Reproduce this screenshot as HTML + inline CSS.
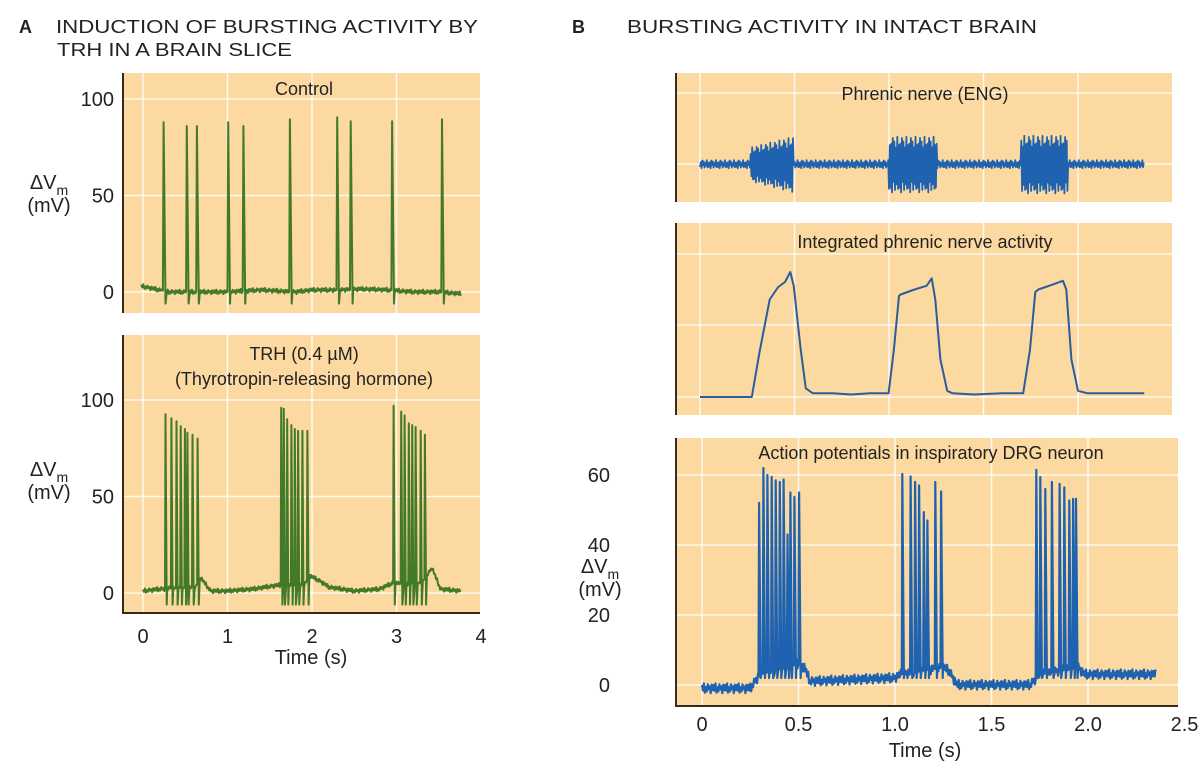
<!DOCTYPE html>
<html><head><meta charset="utf-8"><style>
html,body{margin:0;padding:0;background:#fff;}
svg{display:block;font-family:"Liberation Sans",Arial,sans-serif;}
</style></head><body>
<svg id="fig" width="1202" height="770" viewBox="0 0 1202 770" xmlns="http://www.w3.org/2000/svg">
<g fill="#222">
<text x="19" y="33" font-size="18" font-weight="bold">A</text>
<text x="56" y="33" font-size="18" textLength="422" lengthAdjust="spacingAndGlyphs">INDUCTION OF BURSTING ACTIVITY BY</text>
<text x="57" y="56" font-size="18" textLength="235" lengthAdjust="spacingAndGlyphs">TRH IN A BRAIN SLICE</text>
<text x="572" y="33" font-size="18" font-weight="bold">B</text>
<text x="627" y="33" font-size="18" textLength="410" lengthAdjust="spacingAndGlyphs">BURSTING ACTIVITY IN INTACT BRAIN</text>
</g>
<g id="layer"></g>
</svg>
<script>
// ---------- data ----------
// Panel A control
const ctrlSpikeT=[0.236,0.51,0.63,1.0,1.18,1.73,2.29,2.45,2.94,3.53];
const ctrlSpikeV=[88,86,86,88,86,89.5,90.5,88.5,88.5,89.5];
const ctrlBaseT=[-0.02,0.3,0.6,1.0,1.4,1.8,2.0,2.3,2.6,2.9,3.2,3.5,3.76];
const ctrlBaseV=[3,0,0,0,1,0,1,1,1.5,1,0,0,-1];
// Panel A TRH
const trhSpikeT=[0.26,0.33,0.39,0.44,0.49,0.52,0.58,0.64,1.63,1.66,1.70,1.75,1.79,1.83,1.88,1.94,2.96,3.05,3.09,3.14,3.18,3.22,3.28,3.33];
const trhSpikeV=[92.6,90.5,89,86.5,85,83,82,80,96,95.5,90,87,85,84,84,84,97,94,92,88,87,86,84,82];
const trhBaseT=[0,0.2,0.62,0.68,0.8,1.0,1.3,1.6,1.9,1.97,2.1,2.2,2.5,2.8,2.95,3.3,3.42,3.52,3.76];
const trhBaseV=[1,2,3,8,1,1,2,4,4,9,6,3,1,2,5,5,13,2,1];
// Panel B ENG bursts [start,end,amplitude]
const engStart=[0.268,0.998,1.70];
const engEnd=[0.496,1.254,1.947];
const engAmp=[26,26,27];
const engNoise=3.5;
// Panel B integrated activity
const intT=[0,0.274,0.314,0.369,0.414,0.45,0.478,0.496,0.533,0.56,0.597,0.7,0.8,0.9,0.998,1.026,1.053,1.062,1.135,1.199,1.226,1.245,1.272,1.308,1.336,1.45,1.6,1.71,1.746,1.774,1.79,1.847,1.92,1.938,1.965,2.0,2.05,2.35];
const intV=[0,0,35,78,88,92,100,89,38,7,3,3,2,3,3,38,81,82,86,89,95,78,30,5,3,2,3,3,38,84,86,89,93,86,30,5,3,3];
// Panel B DRG neuron
const drgSpikeT=[0.293,0.315,0.336,0.358,0.379,0.40,0.42,0.44,0.455,0.476,0.50,1.035,1.078,1.101,1.122,1.146,1.165,1.206,1.236,1.729,1.75,1.776,1.81,1.85,1.874,1.90,1.92,1.935];
const drgSpikeV=[52,62,60,59.5,58.5,58,58.7,43,55,53.7,55,60.3,59.6,58,57,49.4,47,58,55.3,61.5,59.4,56,58,57.5,56.5,52.7,53.2,53.2];
const drgBaseT=[0,0.25,0.3,0.5,0.53,0.56,1.0,1.03,1.25,1.28,1.32,1.7,1.75,1.95,1.98,2.35];
const drgBaseV=[-1,-1,3,6,5,1,2,3,5,4,0,0,3,5,3,3];
const jitter=[0.8,-0.5,1.2,-1,0.3,-0.7,1,-0.2,0.5,-1.1,0.9,-0.4];

// ---------- helpers ----------
const NS="http://www.w3.org/2000/svg";
const layer=document.getElementById('layer');
function mk(tag,attrs,parent){const e=document.createElementNS(NS,tag);for(const k in attrs)e.setAttribute(k,attrs[k]);(parent||layer).appendChild(e);return e;}
function txt(x,y,s,size,anchor,parent){const e=mk('text',{x:x,y:y,'font-size':size,'text-anchor':anchor||'middle',fill:'#222'},parent);e.textContent=s;return e;}
function interp(T,V,t){if(t<=T[0])return V[0];for(let i=1;i<T.length;i++){if(t<=T[i]){const f=(t-T[i-1])/(T[i]-T[i-1]);return V[i-1]+f*(V[i]-V[i-1]);}}return V[V.length-1];}
function trace(bT,bV,sT,sV,trough,t0,t1,dt,jAmp,rise,fall){
  const pts=[];let i=0;
  for(let t=t0;t<=t1+1e-9;t+=dt){
    let skip=false;for(const s of sT){if(t>=s-dt*0.5&&t<=s+fall+dt*0.5){skip=true;break;}}
    const v=interp(bT,bV,t)+jAmp*jitter[i%jitter.length];i++;
    if(!skip)pts.push([t,v]);
  }
  sT.forEach((s,k)=>{pts.push([s,interp(bT,bV,s)]);pts.push([s+rise,sV[k]]);pts.push([s+fall,trough]);});
  pts.sort((a,b)=>a[0]-b[0]);return pts;
}
function path(pts,X,Y,color,w,name,g){const d=pts.map((p,i)=>(i?'L':'M')+X(p[0]).toFixed(1)+','+Y(p[1]).toFixed(1)).join('');const e=mk('path',{d:d,fill:'none',stroke:color,'stroke-width':w,'stroke-linejoin':'round'},g);


return e;}
function panelBg(x,y,w,h,name){const g=mk('g',{});


mk('rect',{x:x,y:y,width:w,height:h,fill:'#fcd9a0'},g);return g;}
function grid(g,xs,ys,x0,x1,y0,y1){xs.forEach(x=>mk('line',{x1:x,x2:x,y1:y0,y2:y1,stroke:'#fff','stroke-width':1.5,opacity:0.85},g));ys.forEach(y=>mk('line',{x1:x0,x2:x1,y1:y,y2:y,stroke:'#fff','stroke-width':1.5,opacity:0.85},g));}
const GREEN='#437a2a',BLUE='#1e62b0';

// ---------- Panel A ----------
const AX=t=>143+84.5*t;
const ATopY=v=>292-1.93*v;
const ABotY=v=>593-1.93*v;
const aTicksX=[0,1,2,3,4];
const aTicksY=[0,50,100];
// top
let g=panelBg(123,73,357,240,'control-panel');
grid(g,[0,1,2,3].map(AX),aTicksY.map(ATopY),123,480,73,313);
mk('line',{x1:123,x2:123,y1:73,y2:313,stroke:'#3a2a1a','stroke-width':2},g);
let t=txt(304,95,'Control',18,'middle',g);

path(trace(ctrlBaseT,ctrlBaseV,ctrlSpikeT,ctrlSpikeV,-6,-0.02,3.76,0.012,1.0,0.008,0.03),AX,ATopY,GREEN,2,'control-trace',g);
aTicksY.forEach(v=>{const e=txt(114,ATopY(v)+7,String(v),20,'end');

});
// bottom
g=panelBg(123,335,357,278,'trh-panel');
grid(g,[0,1,2,3].map(AX),aTicksY.map(ABotY),123,480,335,613);
mk('line',{x1:123,x2:123,y1:335,y2:613,stroke:'#3a2a1a','stroke-width':2},g);
mk('line',{x1:122,x2:480,y1:613,y2:613,stroke:'#3a2a1a','stroke-width':2},g);
t=txt(304,360,'TRH (0.4 \u00b5M)',18,'middle',g);

t=txt(304,385,'(Thyrotropin-releasing hormone)',18,'middle',g);

path(trace(trhBaseT,trhBaseV,trhSpikeT,trhSpikeV,-6,0,3.76,0.012,1.0,0.006,0.02),AX,ABotY,GREEN,2,'trh-trace',g);
aTicksY.forEach(v=>{const e=txt(114,ABotY(v)+7,String(v),20,'end');

});
aTicksX.forEach(v=>{const e=txt(AX(v),643,String(v),20,'middle');

});
t=txt(311,664,'Time (s)',20,'middle');
function dv(x,y,name){const e=mk('text',{x:x,y:y,'font-size':20,fill:'#222','text-anchor':'middle'});


e.innerHTML='\u0394V<tspan font-size="14" dy="6">m</tspan><tspan x="'+x+'" dy="17">(mV)</tspan>';}
dv(49,189,'a-top-y-axis-title');
dv(49,476,'a-bottom-y-axis-title');

// ---------- Panel B ----------
const BX=t=>700+189*t;
const gridBX=[0,0.5,1,1.5,2].map(BX);
// B1 ENG
g=panelBg(676,73,496,129,'eng-panel');
grid(g,gridBX,[93,164],676,1172,73,202);
mk('line',{x1:676,x2:676,y1:73,y2:202,stroke:'#3a2a1a','stroke-width':2},g);
t=txt(925,100,'Phrenic nerve (ENG)',18,'middle',g);
const engPts=[];let k=0;
for(let tt=0;tt<=2.35;tt+=0.004){let a=engNoise,inB=false;for(let b=0;b<engStart.length;b++){if(tt>=engStart[b]&&tt<=engEnd[b]){inB=true;a=engAmp[b];if(b===0)a=engAmp[b]*(0.6+0.4*(tt-engStart[b])/(engEnd[b]-engStart[b]));}}
const m=inB?0.55+0.45*Math.abs(jitter[k%jitter.length]):Math.abs(jitter[k%jitter.length]);
engPts.push([tt,(k%2?1:-1)*a*m]);k++;}
path(engPts,BX,v=>164-v,BLUE,1.8,'eng-trace',g);
// B2 integrated
g=panelBg(676,223,496,192,'integrated-panel');
grid(g,gridBX,[254,325,397],676,1172,223,415);
mk('line',{x1:676,x2:676,y1:223,y2:415,stroke:'#3a2a1a','stroke-width':2},g);
t=txt(925,248,'Integrated phrenic nerve activity',18,'middle',g);
path(intT.map((tt,i)=>[tt,intV[i]]),BX,v=>397-1.25*v,'#2a5d9e',2,'integrated-trace',g);
// B3 DRG
const B3X=t=>702+193*t;
const B3Y=v=>685-3.5*v;
const bTicksX=[0,0.5,1.0,1.5,2.0,2.5];
const bTicksY=[0,20,40,60];
g=panelBg(676,438,502,268,'drg-panel');
grid(g,[0,0.5,1,1.5,2].map(B3X),bTicksY.map(B3Y),676,1178,438,706);
mk('line',{x1:676,x2:676,y1:438,y2:706,stroke:'#3a2a1a','stroke-width':2},g);
mk('line',{x1:675,x2:1178,y1:706,y2:706,stroke:'#3a2a1a','stroke-width':2},g);
t=txt(931,459,'Action potentials in inspiratory DRG neuron',18,'middle',g);
path(trace(drgBaseT,drgBaseV,drgSpikeT,drgSpikeV,2,0,2.35,0.005,1.2,0.003,0.011),B3X,B3Y,BLUE,2.2,'drg-trace',g);
bTicksY.forEach(v=>{const e=txt(610,B3Y(v)+7,String(v),20,'end');

});
bTicksX.forEach(v=>{const e=txt(B3X(v),731,v===0?'0':v.toFixed(1),20,'middle');

});
t=txt(925,757,'Time (s)',20,'middle');
dv(600,573,'b-y-axis-title');
</script>
</body></html>
